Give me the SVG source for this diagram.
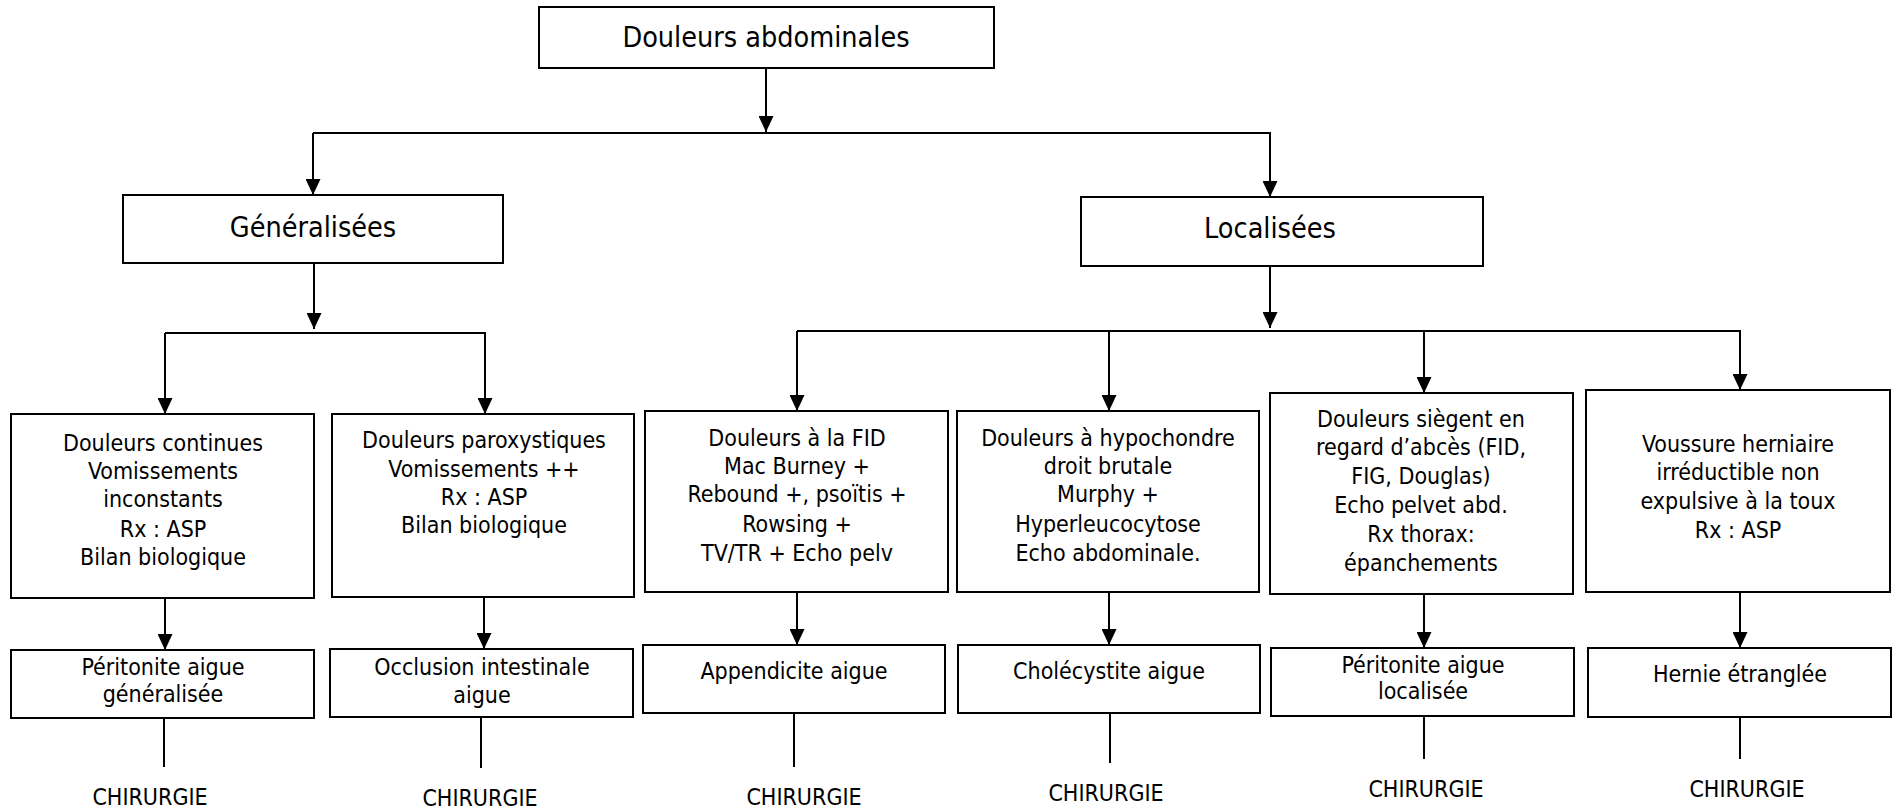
<svg xmlns="http://www.w3.org/2000/svg" width="1898" height="811" viewBox="0 0 1898 811">
<style>
.box{fill:#fff;stroke:#000;stroke-width:2}
.ln{fill:none;stroke:#000;stroke-width:2}
.arr{fill:none;stroke:#000;stroke-width:2;marker-end:url(#ah)}
text{font-family:"DejaVu Sans Condensed","DejaVu Sans",sans-serif;font-stretch:condensed;font-size:23px;fill:#000;text-anchor:middle}
.big{font-size:28.5px}
</style>
<defs>
<marker id="ah" markerUnits="userSpaceOnUse" viewBox="0 0 16 15" refX="16" refY="7.5" markerWidth="16" markerHeight="15" orient="auto">
<path d="M0,0 L16,7.5 L0,15 Z" fill="#000"/>
</marker>
</defs>
<rect width="1898" height="811" fill="#fff"/>
<g id="connectors">
<line class="arr" x1="766" y1="68" x2="766" y2="132"/>
<line class="ln" x1="313" y1="133" x2="1271" y2="133"/>
<line class="arr" x1="313" y1="133" x2="313" y2="195"/>
<line class="arr" x1="1270" y1="133" x2="1270" y2="197"/>
<line class="arr" x1="314" y1="263" x2="314" y2="329"/>
<line class="ln" x1="165" y1="333" x2="486" y2="333"/>
<line class="arr" x1="165" y1="333" x2="165" y2="414"/>
<line class="arr" x1="485" y1="333" x2="485" y2="414"/>
<line class="arr" x1="1270" y1="266" x2="1270" y2="328"/>
<line class="ln" x1="797" y1="331" x2="1741" y2="331"/>
<line class="arr" x1="797" y1="331" x2="797" y2="411"/>
<line class="arr" x1="1109" y1="331" x2="1109" y2="411"/>
<line class="arr" x1="1424" y1="331" x2="1424" y2="393"/>
<line class="arr" x1="1740" y1="331" x2="1740" y2="390"/>
<line class="arr" x1="165" y1="598" x2="165" y2="650"/>
<line class="arr" x1="484" y1="597" x2="484" y2="649"/>
<line class="arr" x1="797" y1="592" x2="797" y2="645"/>
<line class="arr" x1="1109" y1="592" x2="1109" y2="645"/>
<line class="arr" x1="1424" y1="594" x2="1424" y2="648"/>
<line class="arr" x1="1740" y1="592" x2="1740" y2="648"/>
<line class="ln" x1="164" y1="718" x2="164" y2="767"/>
<line class="ln" x1="481" y1="717" x2="481" y2="768"/>
<line class="ln" x1="794" y1="713" x2="794" y2="767"/>
<line class="ln" x1="1110" y1="713" x2="1110" y2="763"/>
<line class="ln" x1="1424" y1="716" x2="1424" y2="759"/>
<line class="ln" x1="1740" y1="717" x2="1740" y2="759"/>
</g>
<g id="n-top"><rect class="box" x="539" y="7" width="455" height="61"/><text class="big" x="766" y="47">Douleurs abdominales</text></g>
<g id="n-gen"><rect class="box" x="123" y="195" width="380" height="68"/><text class="big" x="313" y="237">Généralisées</text></g>
<g id="n-loc"><rect class="box" x="1081" y="197" width="402" height="69"/><text class="big" x="1270" y="238">Localisées</text></g>
<g id="n-b1"><rect class="box" x="11" y="414" width="303" height="184"/>
<text x="163" y="451">Douleurs continues</text><text x="163" y="479">Vomissements</text><text x="163" y="507">inconstants</text><text x="163" y="537">Rx : ASP</text><text x="163" y="565">Bilan biologique</text></g>
<g id="n-b2"><rect class="box" x="332" y="414" width="302" height="183"/>
<text x="484" y="448">Douleurs paroxystiques</text><text x="484" y="477">Vomissements ++</text><text x="484" y="505">Rx : ASP</text><text x="484" y="533">Bilan biologique</text></g>
<g id="n-b3"><rect class="box" x="645" y="411" width="303" height="181"/>
<text x="797" y="446">Douleurs à la FID</text><text x="797" y="474">Mac Burney +</text><text x="797" y="502">Rebound +, psoïtis +</text><text x="797" y="532">Rowsing +</text><text x="797" y="561">TV/TR + Echo pelv</text></g>
<g id="n-b4"><rect class="box" x="957" y="411" width="302" height="181"/>
<text x="1108" y="446">Douleurs à hypochondre</text><text x="1108" y="474">droit brutale</text><text x="1108" y="502">Murphy +</text><text x="1108" y="532">Hyperleucocytose</text><text x="1108" y="561">Echo abdominale.</text></g>
<g id="n-b5"><rect class="box" x="1270" y="393" width="303" height="201"/>
<text x="1421" y="427">Douleurs siègent en</text><text x="1421" y="455">regard d’abcès (FID,</text><text x="1421" y="484">FIG, Douglas)</text><text x="1421" y="513">Echo pelvet abd.</text><text x="1421" y="542">Rx thorax:</text><text x="1421" y="571">épanchements</text></g>
<g id="n-b6"><rect class="box" x="1586" y="390" width="304" height="202"/>
<text x="1738" y="452">Voussure herniaire</text><text x="1738" y="480">irréductible non</text><text x="1738" y="509">expulsive à la toux</text><text x="1738" y="538">Rx : ASP</text></g>
<g id="n-r1"><rect class="box" x="11" y="650" width="303" height="68"/><text x="163" y="675">Péritonite aigue</text><text x="163" y="702">généralisée</text></g>
<g id="n-r2"><rect class="box" x="330" y="649" width="303" height="68"/><text x="482" y="675">Occlusion intestinale</text><text x="482" y="703">aigue</text></g>
<g id="n-r3"><rect class="box" x="643" y="645" width="302" height="68"/><text x="794" y="679">Appendicite aigue</text></g>
<g id="n-r4"><rect class="box" x="958" y="645" width="302" height="68"/><text x="1109" y="679">Cholécystite aigue</text></g>
<g id="n-r5"><rect class="box" x="1271" y="648" width="303" height="68"/><text x="1423" y="673">Péritonite aigue</text><text x="1423" y="699">localisée</text></g>
<g id="n-r6"><rect class="box" x="1588" y="648" width="303" height="69"/><text x="1740" y="682">Hernie étranglée</text></g>
<g id="n-c1"><text x="150" y="805">CHIRURGIE</text></g>
<g id="n-c2"><text x="480" y="806">CHIRURGIE</text></g>
<g id="n-c3"><text x="804" y="805">CHIRURGIE</text></g>
<g id="n-c4"><text x="1106" y="801">CHIRURGIE</text></g>
<g id="n-c5"><text x="1426" y="797">CHIRURGIE</text></g>
<g id="n-c6"><text x="1747" y="797">CHIRURGIE</text></g>
</svg>
